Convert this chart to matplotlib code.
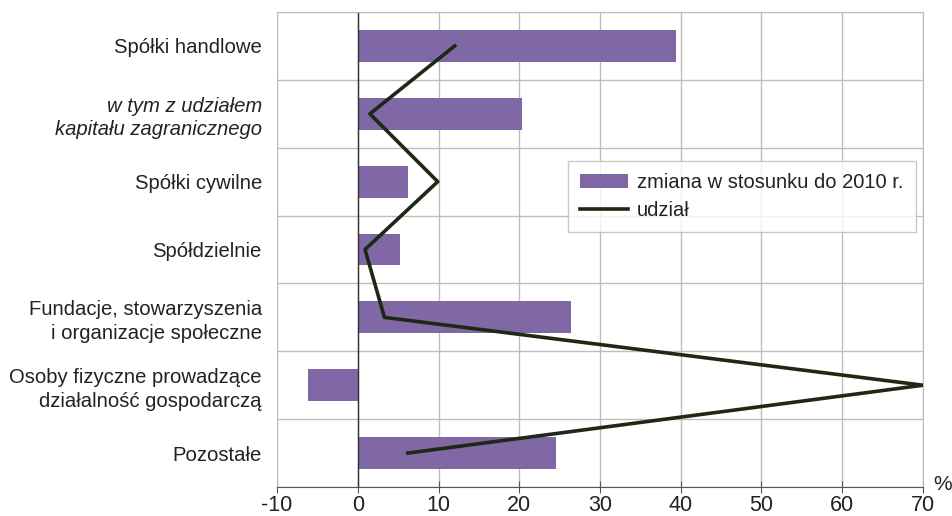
import matplotlib
matplotlib.use("Agg")
import matplotlib.pyplot as plt
import numpy as np

plt.rcParams['font.family'] = ['Liberation Sans', 'DejaVu Sans']

# data
categories = ['Spółki handlowe',
              'w tym z udziałem\nkapitału zagranicznego',
              'Spółki cywilne',
              'Spółdzielnie',
              'Fundacje, stowarzyszenia\ni organizacje społeczne',
              'Osoby fizyczne prowadzące\ndziałalność gospodarczą',
              'Pozostałe']
zmiana = [39.4, 20.4, 6.2, 5.2, 26.4, -6.2, 24.5]
udzial = [12.0, 1.5, 9.9, 0.9, 3.3, 70.0, 6.2]
xticks = [-10, 0, 10, 20, 30, 40, 50, 60, 70]

bar_color = '#8068A6'
line_color = '#1D2815'
grid_color = '#BDBDBD'

fig = plt.figure(figsize=(9.53, 5.16), dpi=100)
ax = fig.add_axes([0.2907, 0.0562, 0.6778, 0.9205])

y = np.arange(len(categories))
bars = ax.barh(y, zmiana, height=0.47, color=bar_color, zorder=2,
               label='zmiana w stosunku do 2010 r.')
line, = ax.plot(udzial, y, color=line_color, lw=2.6, zorder=3, label='udział')

ax.set_xlim(-10, 70)
ax.set_ylim(len(categories) - 0.5, -0.5)

ax.set_xticks(xticks)
ax.set_xticklabels([str(v) for v in xticks])
ax.set_yticks(y)
ax.set_yticklabels(categories)
for lab in ax.get_yticklabels():
    lab.set_linespacing(1.3)
    if lab.get_text().startswith('w tym'):
        lab.set_fontstyle('italic')
ax.set_yticks(np.arange(-0.5, len(categories), 1), minor=True)

ax.tick_params(axis='y', which='major', length=0, labelsize=14.6, pad=11,
               colors='#222222')
ax.tick_params(axis='y', which='minor', length=0)
ax.tick_params(axis='x', direction='inout', length=9, labelsize=15.5,
               colors='#555555', labelcolor='#222222', pad=1)

ax.grid(axis='x', color=grid_color, lw=1)
ax.grid(axis='y', which='minor', color=grid_color, lw=1)
ax.axvline(0, color='#333333', lw=1, zorder=2.5)

for side in ['top', 'right', 'left']:
    ax.spines[side].set_color(grid_color)
ax.spines['bottom'].set_color('#555555')

ax.text(1.03, 0.005, '%', transform=ax.transAxes, fontsize=15,
        color='#222222', ha='center', va='center')

leg = ax.legend([bars, line], ['zmiana w stosunku do 2010 r.', 'udział'],
                loc='upper left', bbox_to_anchor=(0.45, 0.686), borderaxespad=0,
                fontsize=14.5, frameon=True, fancybox=False, edgecolor='#BBBBBB',
                handlelength=2.4, handleheight=0.7, handletextpad=0.45,
                borderpad=0.6, labelspacing=0.45)
leg.get_frame().set_linewidth(1)
for t in leg.get_texts():
    t.set_color('#222222')

fig.savefig('out.png', dpi=100)
